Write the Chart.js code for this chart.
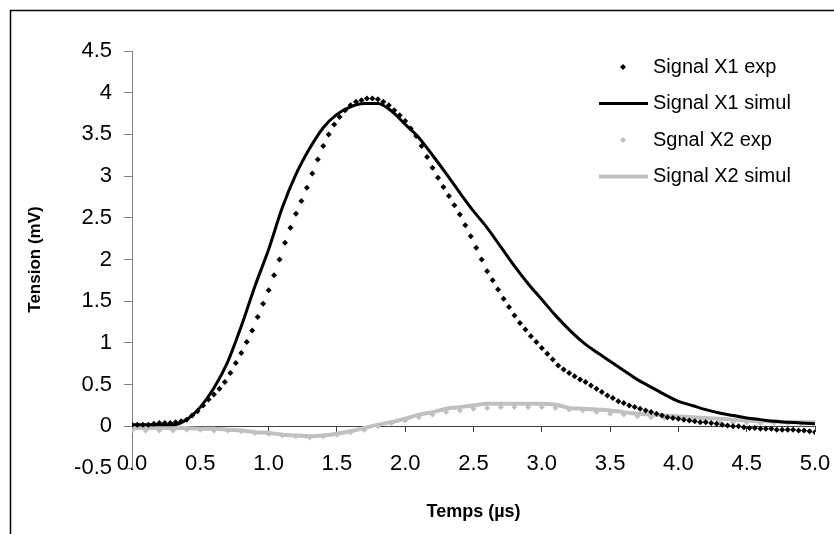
<!DOCTYPE html>
<html>
<head>
<meta charset="utf-8">
<script src="https://cdn.jsdelivr.net/npm/chart.js@4.4.0/dist/chart.umd.min.js"></script>
<style>
  html, body { margin: 0; padding: 0; background: #fff; }
  canvas { display: block; }
</style>
</head>
<body>
<canvas id="chart" width="834" height="534"></canvas>
<script>
const FONT = '"Liberation Sans", Arial, sans-serif';

// time samples (µs)
const tExp1 = [
  0.00, 0.04, 0.08, 0.12, 0.16, 0.20, 0.24, 0.28, 0.32, 0.36,
  0.40, 0.44, 0.48, 0.52, 0.56, 0.60, 0.64, 0.68, 0.72, 0.76,
  0.80, 0.84, 0.88, 0.92, 0.96, 1.00, 1.04, 1.08, 1.12, 1.16,
  1.20, 1.24, 1.28, 1.32, 1.36, 1.40, 1.44, 1.48, 1.52, 1.56,
  1.60, 1.64, 1.68, 1.72, 1.76, 1.80, 1.84, 1.88, 1.92, 1.96,
  2.00, 2.04, 2.08, 2.12, 2.16, 2.20, 2.24, 2.28, 2.32, 2.36,
  2.40, 2.44, 2.48, 2.52, 2.56, 2.60, 2.64, 2.68, 2.72, 2.76,
  2.80, 2.84, 2.88, 2.92, 2.96, 3.00, 3.04, 3.08, 3.12, 3.16,
  3.20, 3.24, 3.28, 3.32, 3.36, 3.40, 3.44, 3.48, 3.52, 3.56,
  3.60, 3.64, 3.68, 3.72, 3.76, 3.80, 3.84, 3.88, 3.92, 3.96,
  4.00, 4.04, 4.08, 4.12, 4.16, 4.20, 4.24, 4.28, 4.32, 4.36,
  4.40, 4.44, 4.48, 4.52, 4.56, 4.60, 4.64, 4.68, 4.72, 4.76,
  4.80, 4.84, 4.88, 4.92, 4.96, 5.00
];
const x1Exp = [
  0.02, 0.02, 0.02, 0.02, 0.03, 0.04, 0.04, 0.04, 0.05, 0.06,
  0.08, 0.13, 0.18, 0.25, 0.32, 0.38, 0.45, 0.53, 0.64, 0.76,
  0.88, 1.01, 1.15, 1.31, 1.47, 1.63, 1.81, 2.00, 2.20, 2.38,
  2.55, 2.70, 2.86, 3.03, 3.20, 3.36, 3.50, 3.62, 3.71, 3.79,
  3.85, 3.89, 3.91, 3.93, 3.93, 3.92, 3.89, 3.85, 3.79, 3.73,
  3.66, 3.57, 3.48, 3.36, 3.23, 3.10, 2.98, 2.87, 2.76, 2.65,
  2.54, 2.41, 2.28, 2.14, 2.00, 1.86, 1.75, 1.64, 1.53, 1.43,
  1.33, 1.24, 1.16, 1.08, 1.01, 0.94, 0.87, 0.80, 0.73, 0.68,
  0.64, 0.60, 0.56, 0.53, 0.49, 0.45, 0.41, 0.37, 0.34, 0.30,
  0.28, 0.25, 0.23, 0.21, 0.19, 0.17, 0.15, 0.13, 0.11, 0.10,
  0.09, 0.08, 0.07, 0.06, 0.05, 0.05, 0.04, 0.03, 0.02, 0.01,
  0.00, 0.00, -0.01, -0.02, -0.02, -0.03, -0.03, -0.03, -0.04, -0.04,
  -0.04, -0.04, -0.05, -0.05, -0.06, -0.07
];

const tSim = [
  0.0, 0.1, 0.2, 0.3, 0.4, 0.5, 0.6, 0.7, 0.8, 0.9,
  1.0, 1.1, 1.2, 1.3, 1.4, 1.5, 1.6, 1.7, 1.8, 1.9,
  2.0, 2.1, 2.2, 2.3, 2.4, 2.5, 2.6, 2.7, 2.8, 2.9,
  3.0, 3.1, 3.2, 3.3, 3.4, 3.5, 3.6, 3.7, 3.8, 3.9,
  4.0, 4.1, 4.2, 4.3, 4.4, 4.5, 4.6, 4.7, 4.8, 4.9,
  5.0
];
const x1Sim = [
  0.02, 0.02, 0.02, 0.02, 0.08, 0.23, 0.46, 0.77, 1.20, 1.68,
  2.12, 2.62, 3.02, 3.33, 3.58, 3.74, 3.83, 3.87, 3.87, 3.78,
  3.62, 3.46, 3.25, 3.03, 2.80, 2.58, 2.38, 2.15, 1.92, 1.71,
  1.52, 1.33, 1.16, 1.01, 0.89, 0.78, 0.67, 0.56, 0.47, 0.38,
  0.30, 0.25, 0.20, 0.16, 0.13, 0.10, 0.08, 0.06, 0.05, 0.04,
  0.03
];
const x2Exp = [
  -0.05, -0.05, -0.05, -0.05, -0.04, -0.04, -0.05, -0.05, -0.06, -0.08,
  -0.09, -0.11, -0.12, -0.13, -0.12, -0.10, -0.07, -0.04, 0.00, 0.04,
  0.07, 0.11, 0.14, 0.17, 0.19, 0.21, 0.22, 0.23, 0.23, 0.23,
  0.23, 0.22, 0.20, 0.19, 0.17, 0.15, 0.14, 0.12, 0.11, 0.10,
  0.09, 0.08, 0.07, 0.06, 0.05, 0.05, 0.04, 0.04, 0.04, 0.03,
  0.03
];
const x2Sim = [
  -0.02, -0.02, -0.02, -0.02, -0.02, -0.03, -0.03, -0.04, -0.05, -0.07,
  -0.08, -0.10, -0.11, -0.12, -0.11, -0.09, -0.06, -0.02, 0.02, 0.05,
  0.09, 0.14, 0.17, 0.21, 0.23, 0.25, 0.27, 0.27, 0.27, 0.27,
  0.27, 0.26, 0.22, 0.21, 0.20, 0.19, 0.17, 0.15, 0.14, 0.13,
  0.12, 0.11, 0.10, 0.09, 0.08, 0.07, 0.06, 0.06, 0.05, 0.05,
  0.05
];

const seriesLabels = ['Signal X1 exp', 'Signal X1 simul', 'Sgnal X2 exp', 'Signal X2 simul'];
const xTitle = 'Temps (µs)';
const yTitle = 'Tension (mV)';

const zip = (xs, ys) => xs.map((x, i) => ({ x, y: ys[i] }));

// white background + page frame (only top/left edges fall inside the picture)
const framePlugin = {
  id: 'frame',
  beforeDraw(chart) {
    const ctx = chart.ctx;
    ctx.save();
    ctx.fillStyle = '#fff';
    ctx.fillRect(0, 0, chart.width, chart.height);
    ctx.strokeStyle = '#000';
    ctx.lineWidth = 1.5;
    ctx.strokeRect(10.5, 10.5, chart.width + 50, chart.height + 50);
    ctx.restore();
  }
};

function diamond(ctx, x, y, r, color) {
  ctx.beginPath();
  ctx.moveTo(x, y - r);
  ctx.lineTo(x + r, y);
  ctx.lineTo(x, y + r);
  ctx.lineTo(x - r, y);
  ctx.closePath();
  ctx.fillStyle = color;
  ctx.fill();
}

const legendPlugin = {
  id: 'insideLegend',
  afterDraw(chart) {
    const ctx = chart.ctx;
    ctx.save();
    ctx.font = '20px ' + FONT;
    ctx.textBaseline = 'middle';
    ctx.textAlign = 'left';
    chart.data.datasets.forEach((ds, i) => {
      const y = 67 + i * 36.5;
      if (ds.showLine) {
        ctx.strokeStyle = ds.borderColor;
        ctx.lineWidth = ds.borderWidth;
        ctx.beginPath();
        ctx.moveTo(599, y);
        ctx.lineTo(648, y);
        ctx.stroke();
      } else {
        diamond(ctx, 623, y, 3, ds.backgroundColor);
      }
      ctx.fillStyle = '#000';
      ctx.fillText(ds.label, 653, y);
    });
    ctx.restore();
  }
};

const xTitlePlugin = {
  id: 'xTitle',
  afterDraw(chart) {
    const { ctx, chartArea } = chart;
    ctx.save();
    ctx.font = 'bold 18px ' + FONT;
    ctx.fillStyle = '#000';
    ctx.textAlign = 'center';
    ctx.textBaseline = 'middle';
    ctx.fillText(xTitle, (chartArea.left + chartArea.right) / 2, 512);
    ctx.restore();
  }
};

new Chart(document.getElementById('chart'), {
  type: 'scatter',
  data: {
    datasets: [
      {
        label: seriesLabels[0],
        data: zip(tExp1, x1Exp),
        showLine: false,
        pointStyle: 'rectRot',
        pointRadius: 3,
        pointBorderWidth: 0,
        backgroundColor: '#000',
        borderColor: '#000'
      },
      {
        label: seriesLabels[1],
        data: zip(tSim, x1Sim),
        showLine: true,
        pointRadius: 0,
        borderColor: '#000',
        backgroundColor: '#000',
        borderWidth: 3,
        cubicInterpolationMode: 'monotone'
      },
      {
        label: seriesLabels[2],
        data: zip(tSim, x2Exp),
        showLine: false,
        pointStyle: 'rectRot',
        pointRadius: 3,
        pointBorderWidth: 0,
        backgroundColor: '#c0c0c0',
        borderColor: '#c0c0c0'
      },
      {
        label: seriesLabels[3],
        data: zip(tSim, x2Sim),
        showLine: true,
        pointRadius: 0,
        borderColor: '#c0c0c0',
        backgroundColor: '#c0c0c0',
        borderWidth: 4,
        cubicInterpolationMode: 'monotone'
      }
    ]
  },
  options: {
    responsive: false,
    animation: false,
    layout: { padding: { top: 51, right: 19, bottom: 66, left: 0 } },
    plugins: {
      legend: { display: false },
      tooltip: { enabled: false }
    },
    scales: {
      x: {
        type: 'linear',
        position: { y: 0 },
        min: 0,
        max: 5,
        // drop the label overflow padding so the plot reaches the right edge
        afterFit: s => { s.paddingLeft = 0; s.paddingRight = 0; },
        border: { display: true, color: '#404040', width: 1 },
        grid: { drawOnChartArea: false, drawTicks: true, tickLength: 5, color: '#404040' },
        ticks: {
          stepSize: 0.5,
          padding: 19,
          color: '#000',
          maxRotation: 0,
          autoSkip: false,
          font: { size: 22, family: FONT },
          callback: v => v.toFixed(1)
        }
      },
      y: {
        min: -0.5,
        max: 4.5,
        afterFit: s => { s.width = 132; },
        border: { display: true, color: '#808080', width: 1 },
        grid: { drawOnChartArea: false, drawTicks: true, tickLength: 8, color: '#808080' },
        ticks: {
          stepSize: 0.5,
          padding: 12,
          color: '#000',
          font: { size: 22, family: FONT },
          callback: v => String(v)
        },
        title: {
          display: true,
          text: yTitle,
          color: '#000',
          font: { size: 17, weight: 'bold', family: FONT },
          padding: { top: 25, bottom: 0 }
        }
      }
    }
  },
  plugins: [framePlugin, legendPlugin, xTitlePlugin]
});
</script>
</body>
</html>
